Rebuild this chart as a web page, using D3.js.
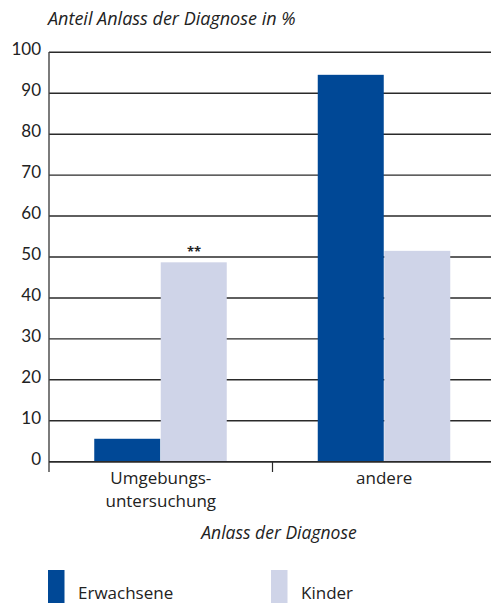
<!DOCTYPE html>
<html><head><meta charset="utf-8">
<script src="https://cdn.jsdelivr.net/npm/d3@7"></script>
<style>
body{margin:0;background:#fff;}
text{font-family:"Open Sans","Lato",sans-serif;fill:#222;}
.tick{font-family:"Lato","Open Sans",sans-serif;}
</style></head>
<body><svg id="c" width="491" height="603"></svg>
<script>
const categories = ["Umgebungs-\nuntersuchung", "andere"];
const seriesNames = ["Erwachsene", "Kinder"];
const erwachsene = [5.6, 94.5];
const kinder = [48.7, 51.5];
const yTicks = [0,10,20,30,40,50,60,70,80,90,100];
const annotations = ["**", ""];
const colors = ["#004896", "#cfd4e8"];

const svg = d3.select("#c");
const x0 = d3.scaleBand().domain(categories).range([49, 496]).paddingInner(0).paddingOuter(0);
const x1 = d3.scaleBand().domain(seriesNames).range([0, 133]);
const y = d3.scaleLinear().domain([0,100]).range([461.7, 52.3]);

// gridlines
svg.append("g").selectAll("line").data(yTicks).join("line")
  .attr("x1", 49).attr("x2", 491)
  .attr("y1", d=>y(d)).attr("y2", d=>y(d))
  .attr("stroke", "#2a2a2a").attr("stroke-width", 1.4);

// y tick labels
svg.append("g").selectAll("text").data(yTicks).join("text")
  .attr("class","tick")
  .attr("x", 41).attr("y", d=>y(d)+3)
  .attr("text-anchor","end").attr("font-size", 17)
  .text(d=>d);

// bars
const data = categories.map((c,i)=>({cat:c, vals:[erwachsene[i], kinder[i]]}));
const groups = svg.append("g").selectAll("g").data(data).join("g")
  .attr("transform", d=>`translate(${x0(d.cat)+x0.bandwidth()/2-66.5},0)`);
groups.selectAll("rect").data(d=>d.vals.map((v,j)=>({s:seriesNames[j], v, j}))).join("rect")
  .attr("x", d=>x1(d.s)).attr("width", x1.bandwidth()-0.5)
  .attr("y", d=>y(d.v)).attr("height", d=>y(0)-y(d.v))
  .attr("fill", d=>colors[d.j]);

// annotations
svg.append("g").selectAll("text").data(data).join("text")
  .attr("x", (d)=>x0(d.cat)+x0.bandwidth()/2+x1(seriesNames[1])-66.5+x1.bandwidth()/2)
  .attr("y", d=>y(d.vals[1])-6)
  .attr("text-anchor","middle").attr("font-size", 13).attr("font-weight","bold")
  .text((d,i)=>annotations[i]);

// axes
svg.append("line").attr("x1",49).attr("x2",49).attr("y1",52).attr("y2",472)
  .attr("stroke","#444").attr("stroke-width",1.4);
svg.append("line").attr("x1",49).attr("x2",491).attr("y1",y(0)).attr("y2",y(0))
  .attr("stroke","#2a2a2a").attr("stroke-width",1.6);
svg.append("line").attr("x1",x0(categories[1])).attr("x2",x0(categories[1]))
  .attr("y1",y(0)).attr("y2",472).attr("stroke","#2a2a2a").attr("stroke-width",1.2);

// category labels
categories.forEach(c=>{
  const t = svg.append("text").attr("text-anchor","middle").attr("font-size",17);
  c.split("\n").forEach((line,k)=>{
    t.append("tspan").attr("x", x0(c)+x0.bandwidth()/2).attr("y", 484+k*23).text(line);
  });
});

// titles
svg.append("text").attr("x",48).attr("y",25).attr("font-size",18).attr("font-style","italic")
  .text("Anteil Anlass der Diagnose in %");
svg.append("text").attr("x",279).attr("y",539).attr("font-size",17.5).attr("font-style","italic")
  .attr("text-anchor","middle").text("Anlass der Diagnose");

// legend
const legX = [48, 271];
seriesNames.forEach((s,i)=>{
  svg.append("rect").attr("x",legX[i]).attr("y",570).attr("width",16.5).attr("height",40).attr("fill",colors[i]);
  svg.append("text").attr("x",legX[i]+30).attr("y",599).attr("font-size",17).text(s);
});
</script></body></html>
